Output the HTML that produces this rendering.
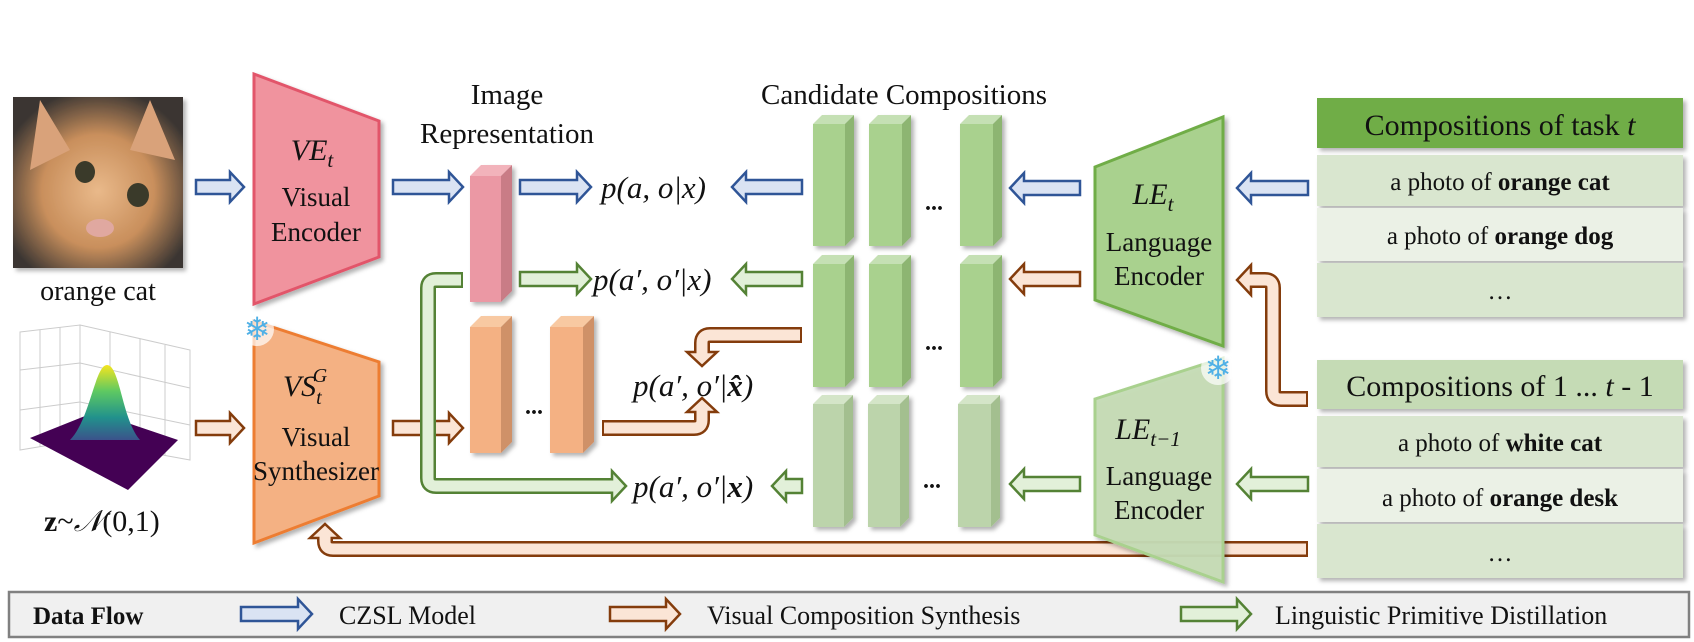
<!DOCTYPE html>
<html><head><meta charset="utf-8"><style>
html,body{margin:0;padding:0;background:#fff;}
svg{display:block;}
text{font-family:"Liberation Serif",serif;fill:#111;}
.it{font-style:italic;}
</style></head><body>
<svg width="1694" height="642" viewBox="0 0 1694 642" xmlns="http://www.w3.org/2000/svg">
<defs>
<radialGradient id="catg" cx="0.5" cy="0.55" r="0.6"><stop offset="0" stop-color="#e9b98a"/><stop offset="0.55" stop-color="#c98f5c"/><stop offset="1" stop-color="#3a3532"/></radialGradient>
<linearGradient id="bump" x1="0" y1="0" x2="0" y2="1"><stop offset="0" stop-color="#f5e51f"/><stop offset="0.35" stop-color="#5ec962"/><stop offset="0.7" stop-color="#21918c"/><stop offset="1" stop-color="#3b528b"/></linearGradient>
<filter id="sh" x="-10%" y="-10%" width="130%" height="130%"><feDropShadow dx="3" dy="3" stdDeviation="2" flood-color="#000" flood-opacity="0.3"/></filter>
</defs>

<rect x="13" y="97" width="170" height="171" fill="url(#catg)" filter="url(#sh)"/>
<polygon points="40,100 70,150 30,170" fill="#d9a27a"/>
<polygon points="150,100 175,160 130,150" fill="#d9a27a"/>
<ellipse cx="85" cy="172" rx="10" ry="11" fill="#3a3a2a"/>
<ellipse cx="138" cy="195" rx="11" ry="12" fill="#3a3a2a"/>
<ellipse cx="100" cy="228" rx="14" ry="9" fill="#e0a8a0"/>
<text x="98" y="300" font-size="28" text-anchor="middle">orange cat</text>

<g stroke="#ccc" stroke-width="1" fill="none">
<polygon points="20,332 80,325 80,440 20,450"/>
<polygon points="80,325 190,350 190,460 80,440"/>
<line x1="40" y1="330" x2="40" y2="447"/><line x1="60" y1="327" x2="60" y2="444"/>
<line x1="110" y1="332" x2="110" y2="446"/><line x1="140" y1="339" x2="140" y2="452"/><line x1="165" y1="345" x2="165" y2="456"/>
<line x1="20" y1="370" x2="80" y2="363"/><line x1="20" y1="410" x2="80" y2="402"/>
<line x1="80" y1="363" x2="190" y2="388"/><line x1="80" y1="402" x2="190" y2="425"/>
</g>
<polygon points="30,438 95,412 178,440 128,490" fill="#440154"/>
<path d="M70,440 C90,420 95,365 107,365 C120,365 122,420 140,440 Z" fill="url(#bump)"/>
<text x="44" y="531" font-size="30"><tspan font-weight="bold">z</tspan>~<tspan class="it">𝒩</tspan>(0,1)</text>

<polygon points="254,74 379,121 379,257 254,304" fill="#f0939e" stroke="#e2556a" stroke-width="3" filter="url(#sh)"/>
<text x="312" y="160" font-size="30" text-anchor="middle" class="it">VE<tspan font-size="21" dy="7">t</tspan></text>
<text x="316" y="206" font-size="27" text-anchor="middle">Visual</text>
<text x="316" y="241" font-size="27" text-anchor="middle">Encoder</text>

<polygon points="254,321 379,362 379,496 254,543" fill="#f4b183" stroke="#ed7d31" stroke-width="3" filter="url(#sh)"/>
<text x="305" y="396" font-size="30" text-anchor="middle" class="it">VS<tspan font-size="20" dy="8">t</tspan><tspan font-size="20" dx="-9" dy="-22">G</tspan></text>
<text x="316" y="446" font-size="27" text-anchor="middle">Visual</text>
<text x="316" y="480" font-size="27" text-anchor="middle">Synthesizer</text>
<g transform="translate(257,329)"><circle r="17" fill="#fff" opacity="0.7"/><text x="0" y="11" font-size="32" text-anchor="middle" style="fill:#4fb0e6;font-family:'DejaVu Sans',sans-serif">❄</text></g>

<text x="507" y="104" font-size="29" text-anchor="middle">Image</text>
<text x="507" y="143" font-size="29" text-anchor="middle">Representation</text>
<text x="904" y="104" font-size="29" text-anchor="middle">Candidate Compositions</text>

<g filter="url(#sh)">
<polygon points="470,176 481,165 512,165 501,176" fill="#f2b3bb"/>
<rect x="470" y="176" width="31" height="126" fill="#eb98a4"/>
<polygon points="501,176 512,165 512,291 501,302" fill="#c97c86"/>
</g>
<g filter="url(#sh)">
<polygon points="470,327 481,316 512,316 501,327" fill="#f8c9a2"/>
<rect x="470" y="327" width="31" height="126" fill="#f4b183"/>
<polygon points="501,327 512,316 512,442 501,453" fill="#cf9168"/>
<polygon points="550,327 561,316 594,316 583,327" fill="#f8c9a2"/>
<rect x="550" y="327" width="33" height="126" fill="#f4b183"/>
<polygon points="583,327 594,316 594,442 583,453" fill="#cf9168"/>
</g>
<text x="534" y="414" font-size="24" text-anchor="middle" font-weight="bold">...</text>

<g filter="url(#sh)">
<polygon points="813,124 822,115 854,115 845,124" fill="#c5e0b4"/><rect x="813" y="124" width="32" height="122" fill="#a9d18e"/><polygon points="845,124 854,115 854,237 845,246" fill="#8db572"/>
<polygon points="869,124 878,115 911,115 902,124" fill="#c5e0b4"/><rect x="869" y="124" width="33" height="122" fill="#a9d18e"/><polygon points="902,124 911,115 911,237 902,246" fill="#8db572"/>
<polygon points="960,124 969,115 1002,115 993,124" fill="#c5e0b4"/><rect x="960" y="124" width="33" height="122" fill="#a9d18e"/><polygon points="993,124 1002,115 1002,237 993,246" fill="#8db572"/>
<polygon points="813,264 822,255 854,255 845,264" fill="#c5e0b4"/><rect x="813" y="264" width="32" height="123" fill="#a9d18e"/><polygon points="845,264 854,255 854,378 845,387" fill="#8db572"/>
<polygon points="869,264 878,255 911,255 902,264" fill="#c5e0b4"/><rect x="869" y="264" width="33" height="123" fill="#a9d18e"/><polygon points="902,264 911,255 911,378 902,387" fill="#8db572"/>
<polygon points="960,264 969,255 1002,255 993,264" fill="#c5e0b4"/><rect x="960" y="264" width="33" height="123" fill="#a9d18e"/><polygon points="993,264 1002,255 1002,378 993,387" fill="#8db572"/>
<polygon points="813,404 822,395 853,395 844,404" fill="#d4e5c8"/><rect x="813" y="404" width="31" height="123" fill="#bcd4ab"/><polygon points="844,404 853,395 853,518 844,527" fill="#a3bf8f"/>
<polygon points="868,404 877,395 909,395 900,404" fill="#d4e5c8"/><rect x="868" y="404" width="32" height="123" fill="#bcd4ab"/><polygon points="900,404 909,395 909,518 900,527" fill="#a3bf8f"/>
<polygon points="958,404 967,395 1000,395 991,404" fill="#d4e5c8"/><rect x="958" y="404" width="33" height="123" fill="#bcd4ab"/><polygon points="991,404 1000,395 1000,518 991,527" fill="#a3bf8f"/>
</g>
<text x="934" y="210" font-size="24" text-anchor="middle" font-weight="bold">...</text>
<text x="934" y="350" font-size="24" text-anchor="middle" font-weight="bold">...</text>
<text x="932" y="488" font-size="24" text-anchor="middle" font-weight="bold">...</text>

<text x="601" y="198" font-size="31" class="it">p(a, o|x)</text>
<text x="593" y="290" font-size="31" class="it">p(a′, o′|x)</text>
<text x="633" y="396" font-size="31" class="it">p(a′, o′|<tspan font-weight="bold">x̂</tspan>)</text>
<text x="633" y="497" font-size="31" class="it">p(a′, o′|<tspan font-weight="bold">x</tspan>)</text>

<path d="M1308,549 L333,549 Q325,549 325,541 L325,538" fill="none" stroke="#843c0c" stroke-width="16"/>
<polygon points="310,538 340,538 325,524" fill="#fbe5d6" stroke="#843c0c" stroke-width="2.5"/>
<path d="M1306,549 L333,549 Q325,549 325,541 L325,536" fill="none" stroke="#fbe5d6" stroke-width="11"/>

<polygon points="1095,167 1223,117 1223,346 1095,300" fill="#a9d18e" stroke="#70ad47" stroke-width="3" filter="url(#sh)"/>
<text x="1153" y="204" font-size="30" text-anchor="middle" class="it">LE<tspan font-size="21" dy="7">t</tspan></text>
<text x="1159" y="251" font-size="27" text-anchor="middle">Language</text>
<text x="1159" y="285" font-size="27" text-anchor="middle">Encoder</text>
<polygon points="1095,399 1223,358 1223,582 1095,535" fill="#c5dbb5" fill-opacity="0.95" stroke="#a9d18e" stroke-width="3" filter="url(#sh)"/>
<text x="1148" y="439" font-size="30" text-anchor="middle" class="it">LE<tspan font-size="21" dy="7">t−1</tspan></text>
<text x="1159" y="485" font-size="27" text-anchor="middle">Language</text>
<text x="1159" y="519" font-size="27" text-anchor="middle">Encoder</text>
<g transform="translate(1218,368)"><circle r="17" fill="#fff" opacity="0.7"/><text x="0" y="11" font-size="32" text-anchor="middle" style="fill:#4fb0e6;font-family:'DejaVu Sans',sans-serif">❄</text></g>

<g stroke-width="2.5" stroke-linejoin="miter">
<g fill="#dae3f3" stroke="#2f5597">
<path d="M196,180 L230,180 L230,172 L244,187 L230,202 L230,194 L196,194 Z"/>
<path d="M393,180 L449,180 L449,172 L463,187 L449,202 L449,194 L393,194 Z"/>
<path d="M520,180 L577,180 L577,172 L591,187 L577,202 L577,194 L520,194 Z"/>
<path d="M802,180 L746,180 L746,172 L732,187 L746,202 L746,194 L802,194 Z"/>
<path d="M1080,181 L1024,181 L1024,173 L1010,188 L1024,203 L1024,195 L1080,195 Z"/>
<path d="M1308,181 L1251,181 L1251,173 L1237,188 L1251,203 L1251,195 L1308,195 Z"/>
</g>
<g fill="#e2f0d9" stroke="#548235">
<path d="M520,272 L577,272 L577,264 L591,279 L577,294 L577,286 L520,286 Z"/>
<path d="M802,272 L746,272 L746,264 L732,279 L746,294 L746,286 L802,286 Z"/>
<path d="M802,479 L786,479 L786,471 L772,486 L786,501 L786,493 L802,493 Z"/>
<path d="M1080,477 L1024,477 L1024,469 L1010,484 L1024,499 L1024,491 L1080,491 Z"/>
<path d="M1308,477 L1251,477 L1251,469 L1237,484 L1251,499 L1251,491 L1308,491 Z"/>
</g>
<g fill="#fbe5d6" stroke="#843c0c">
<path d="M196,421 L230,421 L230,413 L244,428 L230,443 L230,435 L196,435 Z"/>
<path d="M393,421 L449,421 L449,413 L463,428 L449,443 L449,435 L393,435 Z"/>
<path d="M1080,272 L1024,272 L1024,264 L1010,279 L1024,294 L1024,286 L1080,286 Z"/>
</g>
</g>

<path d="M802,335 L710,335 Q702,335 702,343 L702,352" fill="none" stroke="#843c0c" stroke-width="16"/>
<polygon points="687,352 717,352 702,366" fill="#fbe5d6" stroke="#843c0c" stroke-width="2.5"/>
<path d="M800,335 L710,335 Q702,335 702,343 L702,354" fill="none" stroke="#fbe5d6" stroke-width="11"/>
<path d="M602,428 L694,428 Q702,428 702,420 L702,412" fill="none" stroke="#843c0c" stroke-width="16"/>
<polygon points="687,412 717,412 702,398" fill="#fbe5d6" stroke="#843c0c" stroke-width="2.5"/>
<path d="M604,428 L694,428 Q702,428 702,420 L702,410" fill="none" stroke="#fbe5d6" stroke-width="11"/>
<path d="M463,280 L436,280 Q428,280 428,288 L428,478 Q428,486 436,486 L612,486" fill="none" stroke="#548235" stroke-width="16"/>
<polygon points="612,471 612,501 626,486" fill="#e2f0d9" stroke="#548235" stroke-width="2.5"/>
<path d="M461,280 L436,280 Q428,280 428,288 L428,478 Q428,486 436,486 L614,486" fill="none" stroke="#e2f0d9" stroke-width="11"/>
<path d="M1308,399 L1281,399 Q1273,399 1273,391 L1273,288 Q1273,280 1265,280 L1251,280" fill="none" stroke="#843c0c" stroke-width="16"/>
<polygon points="1251,265 1251,295 1237,280" fill="#fbe5d6" stroke="#843c0c" stroke-width="2.5"/>
<path d="M1306,399 L1281,399 Q1273,399 1273,391 L1273,288 Q1273,280 1265,280 L1249,280" fill="none" stroke="#fbe5d6" stroke-width="11"/>

<g filter="url(#sh)">
<rect x="1317" y="98" width="366" height="50" fill="#70ad47"/>
<rect x="1317" y="155" width="366" height="51" fill="#d9e6cf"/>
<rect x="1317" y="208" width="366" height="53" fill="#ebf1e6"/>
<rect x="1317" y="263" width="366" height="54" fill="#d9e6cf"/>
</g>
<text x="1500" y="135" font-size="30" text-anchor="middle">Compositions of task <tspan class="it">t</tspan></text>
<text x="1500" y="190" font-size="25" text-anchor="middle">a photo of <tspan font-weight="bold">orange cat</tspan></text>
<text x="1500" y="244" font-size="25" text-anchor="middle">a photo of <tspan font-weight="bold">orange dog</tspan></text>
<text x="1500" y="299" font-size="25" text-anchor="middle">…</text>
<g filter="url(#sh)">
<rect x="1317" y="360" width="366" height="49" fill="#c5dbb5"/>
<rect x="1317" y="416" width="366" height="51" fill="#d9e6cf"/>
<rect x="1317" y="469" width="366" height="53" fill="#ebf1e6"/>
<rect x="1317" y="524" width="366" height="54" fill="#d9e6cf"/>
</g>
<text x="1500" y="396" font-size="30" text-anchor="middle">Compositions of 1 ... <tspan class="it">t</tspan> - 1</text>
<text x="1500" y="451" font-size="25" text-anchor="middle">a photo of <tspan font-weight="bold">white cat</tspan></text>
<text x="1500" y="506" font-size="25" text-anchor="middle">a photo of <tspan font-weight="bold">orange desk</tspan></text>
<text x="1500" y="561" font-size="25" text-anchor="middle">…</text>

<rect x="9" y="592" width="1680" height="45" fill="#f0f0f0" stroke="#808080" stroke-width="2.5"/>
<text x="33" y="624" font-size="25" font-weight="bold">Data Flow</text>
<g stroke-width="2.5">
<path d="M241,607 L298,607 L298,599 L312,614 L298,629 L298,621 L241,621 Z" fill="#dae3f3" stroke="#2f5597"/>
<path d="M610,607 L666,607 L666,599 L680,614 L666,629 L666,621 L610,621 Z" fill="#fbe5d6" stroke="#843c0c"/>
<path d="M1181,607 L1237,607 L1237,599 L1251,614 L1237,629 L1237,621 L1181,621 Z" fill="#e2f0d9" stroke="#548235"/>
</g>
<text x="339" y="624" font-size="26">CZSL Model</text>
<text x="707" y="624" font-size="26">Visual Composition Synthesis</text>
<text x="1275" y="624" font-size="26">Linguistic Primitive Distillation</text>
</svg>
</body></html>
